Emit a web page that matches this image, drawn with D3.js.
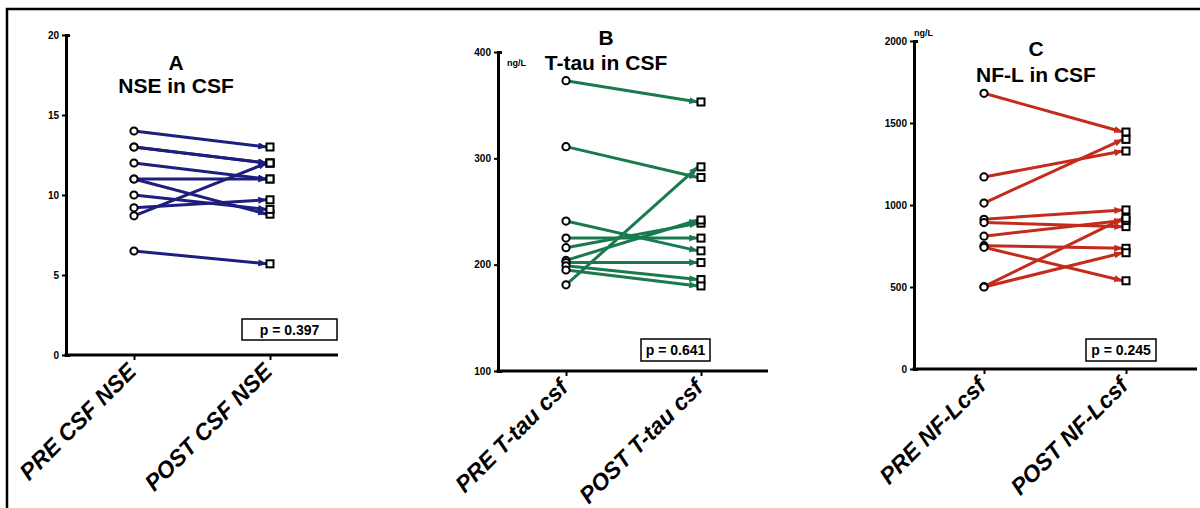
<!DOCTYPE html>
<html>
<head>
<meta charset="utf-8">
<style>
  body { margin: 0; background: #fff; }
  svg { display: block; font-family: "Liberation Sans", Arial, sans-serif; }
  .tick text { font-weight: bold; font-size: 10px; }
  .title { font-weight: bold; font-size: 21px; text-anchor: middle; }
  .unit { font-weight: bold; font-size: 9px; }
  .tick text.xlab { font-weight: bold; font-style: italic; font-size: 23px; text-anchor: end; }
  .pval { font-weight: bold; font-size: 14px; text-anchor: middle; }
</style>
</head>
<body>
<svg width="1200" height="508"></svg>
<script src="https://cdn.jsdelivr.net/npm/d3@7"></script>
<script>
  // values (pre -> post, one entry per patient)
  var nsePre  = [14, 13, 13, 12, 11, 11, 10, 9.2, 8.7, 6.5];
  var nsePost = [13, 12, 12, 11, 11, 8.8, 9.1, 9.7, 12, 5.7];

  var tauPre  = [373, 311, 241, 225, 216, 204, 202, 199, 195, 181];
  var tauPost = [353, 282, 213, 225, 239, 242, 202, 186, 180, 292];

  var nflPre  = [1681, 1171, 1012, 913, 893, 810, 752, 742, 502, 500];
  var nflPost = [1445, 1329, 1400, 970, 868, 905, 736, 538, 919, 709];

  var nseTicks = [0, 5, 10, 15, 20];
  var tauTicks = [100, 200, 300, 400];
  var nflTicks = [0, 500, 1000, 1500, 2000];

  var groupLabels = [
    ["PRE CSF NSE", "POST CSF NSE"],
    ["PRE T-tau csf", "POST T-tau csf"],
    ["PRE NF-Lcsf", "POST NF-Lcsf"]
  ];
  var letters = ["A", "B", "C"];
  var titles = ["NSE in CSF", "T-tau in CSF", "NF-L in CSF"];
  var pValues = ["p = 0.397", "p = 0.641", "p = 0.245"];

  // layout of the three panels
  var panels = [
    {pre: nsePre, post: nsePost, ticks: nseTicks, color: "#1e1e7e",
     axisX: 66, top: 35, bottom: 355, right: 338, xPre: 134, xPost: 270,
     letterY: 70, titleY: 93, titleX: 176, unit: null,
     box: [242, 319, 95, 21]},
    {pre: tauPre, post: tauPost, ticks: tauTicks, color: "#1a7a4e",
     axisX: 498, top: 52, bottom: 371, right: 768, xPre: 566, xPost: 701,
     letterY: 45, titleY: 70, titleX: 606, unit: [507, 66],
     box: [641, 339, 69, 22]},
    {pre: nflPre, post: nflPost, ticks: nflTicks, color: "#c42b1c",
     axisX: 914, top: 41, bottom: 369, right: 1197, xPre: 984, xPost: 1126,
     letterY: 56, titleY: 82, titleX: 1036, unit: [914, 36],
     box: [1086, 339, 70, 22]}
  ];

  var svg = d3.select("svg");

  // outer frame (left and top edges only)
  svg.append("path")
      .attr("d", "M7,508V9H1200")
      .attr("fill", "none")
      .attr("stroke", "#000")
      .attr("stroke-width", 2.5);

  var defs = svg.append("defs");

  panels.forEach(function(p, i) {
    var g = svg.append("g");

    var y = d3.scaleLinear()
        .domain(d3.extent(p.ticks))
        .range([p.bottom, p.top]);

    var x = d3.scalePoint()
        .domain(groupLabels[i])
        .range([p.xPre, p.xPost]);

    //arrowhead in the panel colour
    defs.append("marker")
        .attr("id", "arrow" + i)
        .attr("markerUnits", "userSpaceOnUse")
        .attr("viewBox", "0 0 10 8")
        .attr("refX", 10)
        .attr("refY", 4)
        .attr("markerWidth", 9)
        .attr("markerHeight", 7)
        .attr("orient", "auto")
      .append("path")
        .attr("d", "M0,0L10,4L0,8z")
        .attr("fill", p.color);

    //y axis
    var yAxis = g.append("g")
        .attr("transform", "translate(" + p.axisX + ",0)")
        .call(d3.axisLeft(y).tickValues(p.ticks).tickFormat(d3.format("d"))
          .tickSize(4).tickSizeOuter(-4).tickPadding(3));
    yAxis.select(".domain").attr("stroke-width", 3);
    yAxis.selectAll(".tick line").attr("stroke-width", 2);

    //x axis: long baseline + ticks/labels from the point scale
    g.append("line")
        .attr("x1", p.axisX - 1.5)
        .attr("x2", p.right)
        .attr("y1", p.bottom)
        .attr("y2", p.bottom)
        .attr("stroke", "#000")
        .attr("stroke-width", 3);

    var xAxis = g.append("g")
        .attr("transform", "translate(0," + p.bottom + ")")
        .call(d3.axisBottom(x).tickSize(5));
    xAxis.select(".domain").remove();
    xAxis.selectAll(".tick line").attr("stroke-width", 2);
    xAxis.selectAll(".tick text")
        .attr("class", "xlab")
        .attr("dy", null)
        .attr("y", null)
        .attr("transform", "translate(3,18) rotate(-45)");

    //paired pre -> post arrows
    var pairs = p.pre.map(function(v, k) { return {pre: v, post: p.post[k]}; });

    g.append("g").selectAll("line")
        .data(pairs)
        .enter().append("line")
          .attr("x1", x(groupLabels[i][0]))
          .attr("y1", function(d) { return y(d.pre); })
          .attr("x2", x(groupLabels[i][1]) - 3)
          .attr("y2", function(d) { return y(d.post); })
          .attr("stroke", p.color)
          .attr("stroke-width", 3)
          .attr("marker-end", "url(#arrow" + i + ")");

    g.append("g").selectAll("circle")
        .data(pairs)
        .enter().append("circle")
          .attr("cx", x(groupLabels[i][0]))
          .attr("cy", function(d) { return y(d.pre); })
          .attr("r", 3.6)
          .attr("fill", "#fff")
          .attr("stroke", "#000")
          .attr("stroke-width", 2);

    g.append("g").selectAll("rect")
        .data(pairs)
        .enter().append("rect")
          .attr("x", x(groupLabels[i][1]) - 3.5)
          .attr("y", function(d) { return y(d.post) - 3.5; })
          .attr("width", 7)
          .attr("height", 7)
          .attr("fill", "#fff")
          .attr("stroke", "#000")
          .attr("stroke-width", 2);

    //titles
    g.append("text")
        .attr("class", "title")
        .attr("x", p.titleX)
        .attr("y", p.letterY)
        .text(letters[i]);
    g.append("text")
        .attr("class", "title")
        .attr("x", p.titleX)
        .attr("y", p.titleY)
        .text(titles[i]);

    if (p.unit) {
      g.append("text")
          .attr("class", "unit")
          .attr("x", p.unit[0])
          .attr("y", p.unit[1])
          .text("ng/L");
    }

    //p-value box
    g.append("rect")
        .attr("x", p.box[0])
        .attr("y", p.box[1])
        .attr("width", p.box[2])
        .attr("height", p.box[3])
        .attr("fill", "#fff")
        .attr("stroke", "#000")
        .attr("stroke-width", 1.5);
    g.append("text")
        .attr("class", "pval")
        .attr("x", p.box[0] + p.box[2] / 2)
        .attr("y", p.box[1] + p.box[3] / 2 + 5)
        .text(pValues[i]);
  });
</script>
</body>
</html>
